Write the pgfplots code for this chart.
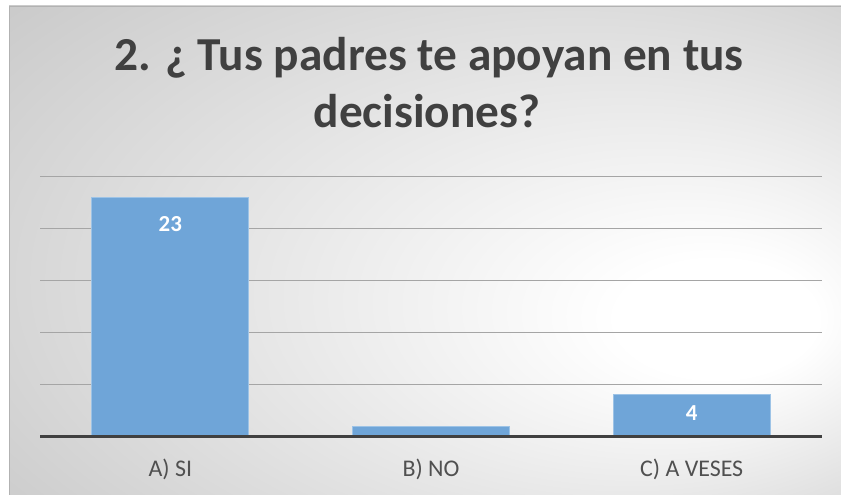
\documentclass[border=0pt]{standalone}
\usepackage{fontspec}
\setmainfont{Carlito}
\usepackage{pgfplots}
\pgfplotsset{compat=1.18}
\definecolor{barblue}{RGB}{111,165,216}
\definecolor{baredge}{RGB}{157,195,230}
\definecolor{titlegray}{RGB}{64,64,64}
\definecolor{labelgray}{RGB}{80,80,80}
\definecolor{gridgray}{RGB}{165,165,165}
\definecolor{basegray}{RGB}{64,64,64}
% off-centre radial background, white spot right of the middle
\pgfdeclareradialshading{chartbg}{\pgfpoint{20bp}{-8bp}}{color(0bp)=(white); color(6bp)=(white); color(50bp)=(black!27)}
\begin{document}
\begin{tikzpicture}
	\useasboundingbox (0bp,0bp) rectangle (841bp,495bp);
	\fill[white] (0bp,0bp) rectangle (841bp,495bp);
	\shade[shading=chartbg] (9bp,0bp) rectangle (841bp,489bp);
	\draw[black!30, line width=1bp] (9.5bp,0bp) -- (9.5bp,488.5bp) -- (841bp,488.5bp);
	% title, two centred lines
	\node[font=\fontsize{47.5}{57}\selectfont\bfseries, text=titlegray, anchor=base] at (429bp,424bp) {2. ¿ Tus padres te apoyan en tus};
	\node[font=\fontsize{47.5}{57}\selectfont\bfseries, text=titlegray, anchor=base] at (427bp,367bp) {decisiones?};
	\begin{axis}[at={(40bp,58.5bp)}, anchor=south west, scale only axis,
		width=782bp, height=260bp,
		xmin=-0.5, xmax=2.5, ymin=0, ymax=25,
		ybar, bar width=157bp,
		axis line style={draw=none}, major tick length=0,
		xtick={0,1,2}, xticklabels={A) SI, B) NO, C) A VESES},
		xticklabel style={font=\fontsize{24}{29}\selectfont, text=labelgray, anchor=north, inner sep=0pt, text height=15.2bp, text depth=0pt, yshift=-25bp},
		ytick={5,10,15,20,25}, yticklabels={},
		ymajorgrids, grid style={gridgray, line width=1.3bp},
		clip=false]
		\addplot[fill=barblue, draw=baredge, line width=1bp] coordinates {(0,23) (1,1) (2,4)};
		\draw[basegray, line width=3bp] (rel axis cs:0,0) -- (rel axis cs:1,0);
		\node[font=\fontsize{23}{28}\selectfont\bfseries, text=white] at (axis cs:0,20.4) {23};
		\node[font=\fontsize{23}{28}\selectfont\bfseries, text=white] at (axis cs:2,2.3) {4};
	\end{axis}
\end{tikzpicture}
\end{document}
